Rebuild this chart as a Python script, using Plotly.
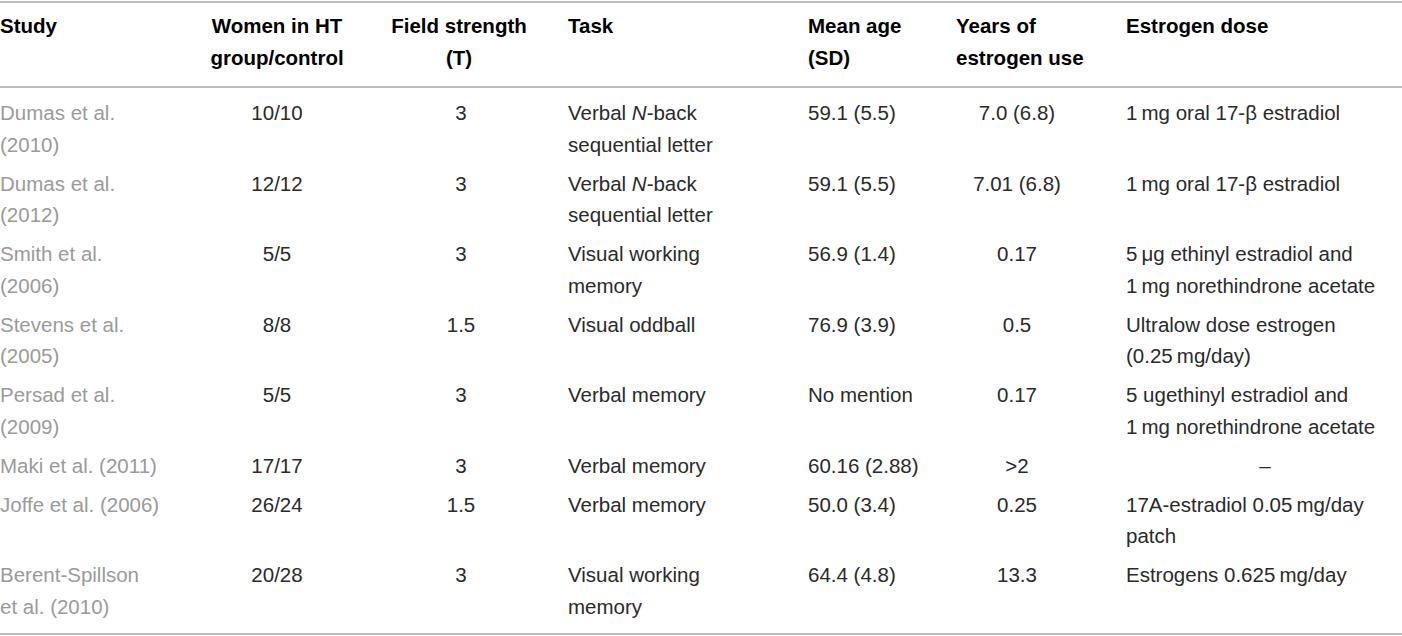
import plotly.graph_objects as go

# table content, one list per column ("<br>" = line break inside a cell)
headers = ["Study", "Women in HT<br>group/control", "Field strength<br>(T)", "Task",
           "Mean age<br>(SD)", "Years of<br>estrogen use", "Estrogen dose"]

study = ["Dumas et al.<br>(2010)", "Dumas et al.<br>(2012)", "Smith et al.<br>(2006)",
         "Stevens et al.<br>(2005)", "Persad et al.<br>(2009)", "Maki et al. (2011)",
         "Joffe et al. (2006)", "Berent-Spillson<br>et al. (2010)"]
women = ["10/10", "12/12", "5/5", "8/8", "5/5", "17/17", "26/24", "20/28"]
field = ["3", "3", "3", "1.5", "3", "3", "1.5", "3"]
task = ["Verbal <i>N</i>-back<br>sequential letter", "Verbal <i>N</i>-back<br>sequential letter",
        "Visual working<br>memory", "Visual oddball", "Verbal memory", "Verbal memory",
        "Verbal memory", "Visual working<br>memory"]
mean_age = ["59.1 (5.5)", "59.1 (5.5)", "56.9 (1.4)", "76.9 (3.9)", "No mention",
            "60.16 (2.88)", "50.0 (3.4)", "64.4 (4.8)"]
years = ["7.0 (6.8)", "7.01 (6.8)", "0.17", "0.5", "0.17", ">2", "0.25", "13.3"]
dose = ["1\u2009mg oral 17-\u03b2 estradiol", "1\u2009mg oral 17-\u03b2 estradiol",
        "5\u2009\u03bcg ethinyl estradiol and<br>1\u2009mg norethindrone acetate",
        "Ultralow dose estrogen<br>(0.25\u2009mg/day)",
        "5 ugethinyl estradiol and<br>1\u2009mg norethindrone acetate",
        "\u2013", "17A-estradiol 0.05\u2009mg/day<br>patch", "Estrogens 0.625\u2009mg/day"]

columns = [study, women, field, task, mean_age, years, dose]

# layout (pixels)
W, H = 1402, 636
col_x = [0, 277, 461, 568, 808, 1017, 1126]
body_align = ["left", "center", "center", "left", "left", "center", "left"]
head_x = [0, 277, 459, 568, 808, 956, 1126]
head_align = ["left", "center", "center", "left", "left", "left", "left"]
dash_x = 1265

FONT = "Liberation Sans"
BODY_SIZE = 20.5
GRAY = "#9a9a9a"
DARK = "#2a2a2a"
RULE = "#bdbdbd"

head_y0, line_gap = 28, 31.5
body_y0, row_gap = 115, 39

fig = go.Figure()


def add_text(xs, ys, texts, align, color, bold=False):
    fig.add_trace(go.Scatter(
        x=xs, y=ys, text=texts, mode="text",
        textposition="middle right" if align == "left" else "middle center",
        textfont=dict(family=FONT, size=BODY_SIZE, color=color,
                      weight="bold" if bold else "normal"),
        hoverinfo="skip", showlegend=False))


# header
for j, h in enumerate(headers):
    parts = h.split("<br>")
    add_text([head_x[j]] * len(parts),
             [head_y0 + k * line_gap for k in range(len(parts))],
             parts, head_align[j], "#000000", bold=True)

# row positions from the tallest cell in each row
n_rows = len(study)
row_lines = [max(len(col[i].split("<br>")) for col in columns) for i in range(n_rows)]
row_y = []
y = body_y0
for n in row_lines:
    row_y.append(y)
    y += (n - 1) * line_gap + row_gap

for j, col in enumerate(columns):
    xs, ys, ts = [], [], []
    cx, cys, cts = [], [], []
    for i, cell in enumerate(col):
        for k, part in enumerate(cell.split("<br>")):
            if part == "\u2013":
                cx.append(dash_x)
                cys.append(row_y[i] + k * line_gap)
                cts.append(part)
            else:
                xs.append(col_x[j])
                ys.append(row_y[i] + k * line_gap)
                ts.append(part)
    add_text(xs, ys, ts, body_align[j], GRAY if j == 0 else DARK)
    if cts:
        add_text(cx, cys, cts, "center", DARK)

# horizontal rules
for yy in [2, 87, 634]:
    fig.add_shape(type="line", x0=0, x1=W, y0=yy, y1=yy,
                  line=dict(color=RULE, width=2), xref="x", yref="y")

fig.update_layout(
    width=W, height=H,
    margin=dict(l=0, r=0, t=0, b=0),
    paper_bgcolor="white", plot_bgcolor="white",
    xaxis=dict(range=[0, W], visible=False, fixedrange=True),
    yaxis=dict(range=[H, 0], visible=False, fixedrange=True),
    hovermode=False,
)

# page body margin off so the table sits at the window edge
fig.write_html("out.html", config={"displayModeBar": False},
               post_script="document.body.style.margin='0';")
